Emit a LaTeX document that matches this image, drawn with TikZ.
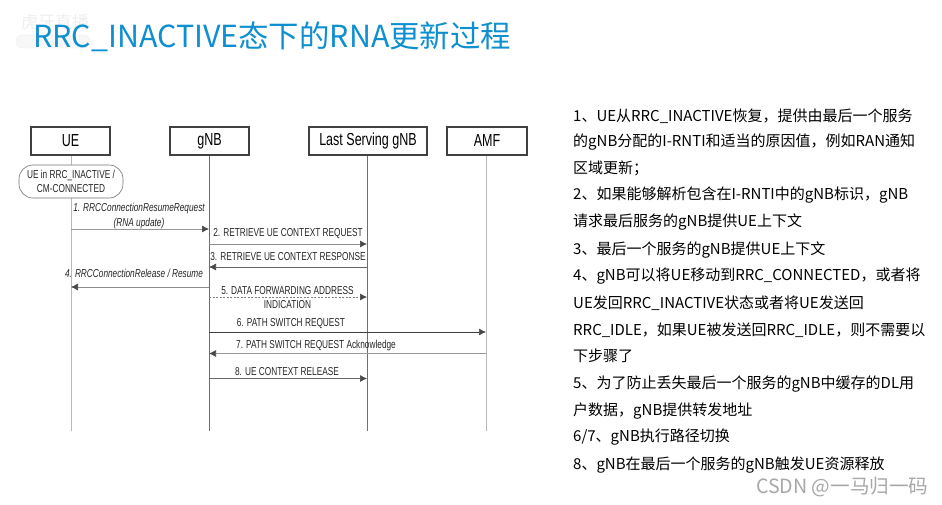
\documentclass[tikz,border=0pt]{standalone}
\usepackage{fontspec}
\setmainfont{Noto Sans CJK SC}
\newfontfamily\diafont[FakeStretch=0.72]{Liberation Sans}
\newfontfamily\bodyfont{Noto Sans CJK SC}
\definecolor{titleblue}{HTML}{0E8FD0}
\definecolor{lifeA}{HTML}{B8B8B8}
\definecolor{lifeB}{HTML}{6E6E6E}
\definecolor{wm}{HTML}{A8A8A8}
\definecolor{wmpale}{HTML}{EFEFEF}
\definecolor{tipc}{HTML}{484848}
\usetikzlibrary{arrows.meta}
\tikzset{
  x=1pt,y=-1pt,
  actor/.style={draw=black!75,line width=1.1pt,fill=white,font=\diafont\fontsize{17.4}{19}\selectfont,inner sep=0pt,anchor=center},
  life/.style={line width=0.9pt},
  msg/.style={line width=0.7pt,-{Latex[length=7pt,width=7pt,color=tipc]}},
  lab/.style={font=\diafont\fontsize{11.5}{13}\selectfont,text=black!85,inner sep=0pt,anchor=center},
  labit/.style={lab,font=\diafont\itshape\fontsize{11.5}{13}\selectfont},
  body/.style={font=\bodyfont\fontsize{15}{16}\selectfont,text=black,inner sep=0pt,anchor=west},
}
\begin{document}
\begin{tikzpicture}
\useasboundingbox (0,0) rectangle (942,505);
\fill[white] (0,0) rectangle (942,505);
% watermark
\node[font=\bodyfont\fontsize{17}{18}\selectfont,text=wmpale,inner sep=0pt] (wm1) at (55,22) {虎牙直播};
\draw[wmpale,fill=wmpale!50,rounded corners=6pt] (16,35) rectangle (90,48);
% title
\node[font=\bodyfont\fontsize{30.4}{34}\selectfont,text=titleblue,inner sep=0pt,anchor=west] (title) at (33,37) {RRC\_INACTIVE态下的RNA更新过程};
% lifelines ends
\coordinate (ueb) at (71,431);
\coordinate (gnbb) at (209,431);
\coordinate (lsb) at (367,431);
\coordinate (amfb) at (486,431);
% headers
\node[actor,minimum width=79pt,minimum height=28pt] (ue) at (70.5,141) {UE};
\node[actor,minimum width=79pt,minimum height=28pt] (gnb) at (209.5,141) {gNB};
\node[actor,minimum width=118pt,minimum height=28pt] (ls) at (368,141) {Last Serving gNB};
\node[actor,minimum width=80pt,minimum height=28pt] (amf) at (487,141) {AMF};
% lifelines
\draw[life,lifeA] (ue.south -| ueb) -- (ueb);
\draw[life,lifeB] (gnb.south -| gnbb) -- (gnbb);
\draw[life,lifeB] (ls.south -| lsb) -- (lsb);
\draw[life,lifeA] (amf.south -| amfb) -- (amfb);
% state
\node[draw=black!55,line width=0.6pt,fill=white,rounded corners=14pt,minimum width=104pt,minimum height=33pt,inner sep=0pt,align=center,font=\diafont\fontsize{11.5}{14}\selectfont,text=black!85] (state) at (71,181.5) {UE in RRC\_INACTIVE /\\CM-CONNECTED};
% message anchors
\coordinate (u1) at (71,229); \coordinate (g1) at (209,229);
\coordinate (g2) at (209,244); \coordinate (l2) at (367,244);
\coordinate (l3) at (367,267); \coordinate (g3) at (209,267);
\coordinate (g4) at (209,287); \coordinate (u4) at (71,287);
\coordinate (g5) at (209,297); \coordinate (l5) at (367,297);
\coordinate (g6) at (209,332); \coordinate (a6) at (486,332);
\coordinate (a7) at (486,353.5); \coordinate (g7) at (209,353.5);
\coordinate (g8) at (209,378.5); \coordinate (l8) at (367,378.5);
% messages
\draw[msg,black!40] (u1) -- (g1);
\draw[msg,black!45] (g2) -- (l2);
\draw[msg,black!60] (l3) -- (g3);
\draw[msg,black!45] (g4) -- (u4);
\draw[msg,black!50,dash pattern=on 2pt off 1.5pt] (g5) -- (l5);
\draw[msg,black!75] (g6) -- (a6);
\draw[msg,black!40] (a7) -- (g7);
\draw[msg,black!60] (g8) -- (l8);
% labels
\node[labit] (t1a) at (139,209) {1. RRCConnectionResumeRequest};
\node[labit] (t1b) at (139,224) {(RNA update)};
\node[lab] (t2) at (288,234) {2. RETRIEVE UE CONTEXT REQUEST};
\node[lab] (t3) at (288,257) {3. RETRIEVE UE CONTEXT RESPONSE};
\node[labit] (t4) at (134,273) {4. RRCConnectionRelease / Resume};
\node[lab] (t5a) at (287.5,291) {5. DATA FORWARDING ADDRESS};
\node[lab] (t5b) at (287.5,305) {INDICATION};
\node[lab] (t6) at (291,324) {6. PATH SWITCH REQUEST};
\node[lab] (t7) at (316,346) {7. PATH SWITCH REQUEST Acknowledge};
\node[lab] (t8) at (287,372) {8. UE CONTEXT RELEASE};
% body text
\node[body] (b1) at (573,116) {1、UE从RRC\_INACTIVE恢复，提供由最后一个服务};
\node[body] (b2) at (573,142) {的gNB分配的I-RNTI和适当的原因值，例如RAN通知};
\node[body] (b3) at (573,168) {区域更新；};
\node[body] (b4) at (573,195) {2、如果能够解析包含在I-RNTI中的gNB标识，gNB};
\node[body] (b5) at (573,222) {请求最后服务的gNB提供UE上下文};
\node[body] (b6) at (573,250) {3、最后一个服务的gNB提供UE上下文};
\node[body] (b7) at (573,276) {4、gNB可以将UE移动到RRC\_CONNECTED，或者将};
\node[body] (b8) at (573,303) {UE发回RRC\_INACTIVE状态或者将UE发送回};
\node[body] (b9) at (573,330) {RRC\_IDLE，如果UE被发送回RRC\_IDLE，则不需要以};
\node[body] (b10) at (573,356) {下步骤了};
\node[body] (b11) at (573,384) {5、为了防止丢失最后一个服务的gNB中缓存的DL用};
\node[body] (b12) at (573,411) {户数据，gNB提供转发地址};
\node[body] (b13) at (573,437) {6/7、gNB执行路径切换};
\node[body] (b14) at (573,465) {8、gNB在最后一个服务的gNB触发UE资源释放};
% csdn watermark
\node[font=\bodyfont\fontsize{19.6}{21}\selectfont,text=wm,inner sep=0pt,anchor=west] (csdn) at (756,487) {CSDN @一马归一码};
\end{tikzpicture}
\end{document}
